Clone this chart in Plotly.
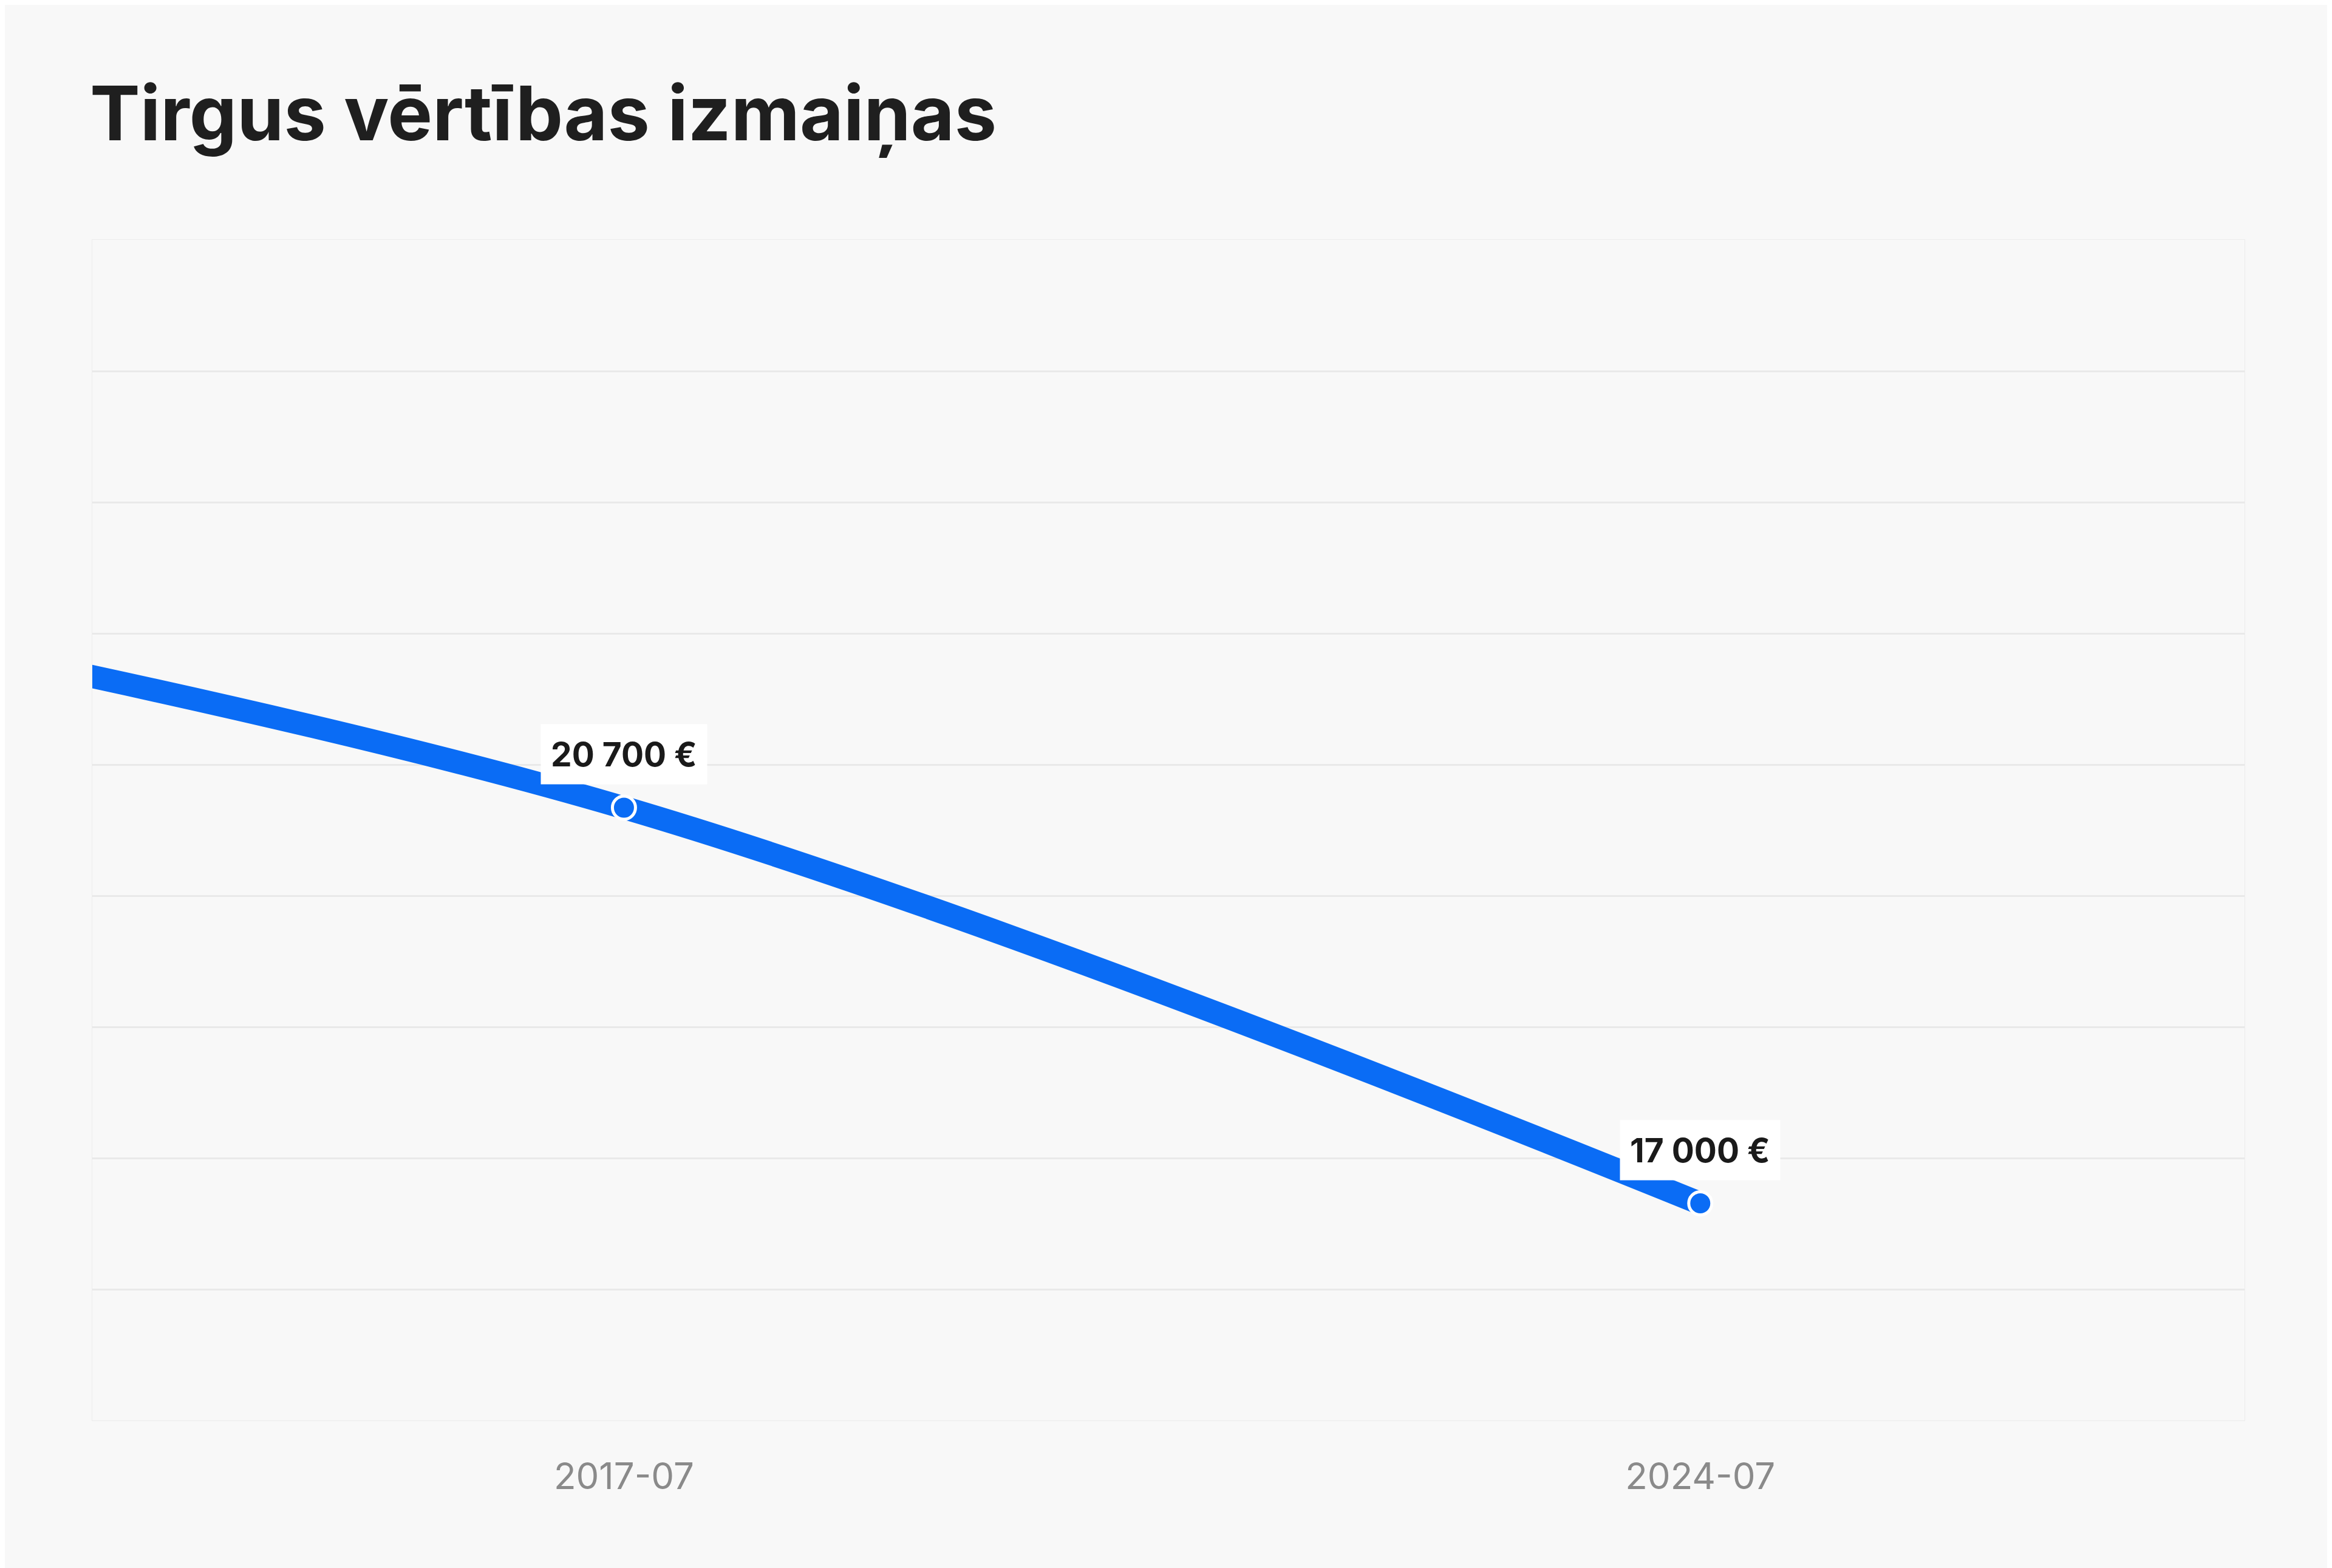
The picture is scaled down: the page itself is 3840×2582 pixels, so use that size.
import plotly.graph_objects as go

dates = ["2010-07-01", "2017-07-01", "2024-07-01"]
values = [22950, 20700, 17000]
tick_labels = ["2017-07", "2024-07"]
tick_dates = ["2017-07-01", "2024-07-01"]
label_texts = ["20 700 €", "17 000 €"]

blue = "#0a6cf5"
fig = go.Figure()
fig.add_trace(go.Scatter(x=dates, y=values, mode="lines",
                         line=dict(color=blue, width=38, shape="spline", smoothing=1.0),
                         hoverinfo="skip"))
fig.add_trace(go.Scatter(x=[dates[1]], y=[values[1]], mode="markers",
                         marker=dict(size=38, color=blue, line=dict(color="white", width=5)),
                         hoverinfo="skip"))
fig.add_trace(go.Scatter(x=[dates[2]], y=[values[2]], mode="markers",
                         marker=dict(size=38, color=blue, line=dict(color="white", width=5)),
                         hoverinfo="skip"))
for d, v, t in zip(tick_dates, values[1:], label_texts):
    fig.add_annotation(x=d, y=v, text="<b>" + t + "</b>", showarrow=False, yshift=88,
                       font=dict(family="Inter", size=55, color="#1a1a1a"),
                       bgcolor="white", borderpad=16)

fig.update_layout(
    width=3840, height=2582, showlegend=False,
    paper_bgcolor="#f8f8f8", plot_bgcolor="#f8f8f8",
    margin=dict(l=144, r=152, t=387, b=251),
    title=dict(text="<b>Tirgus vērtības izmaiņas</b>", x=140/3840, xanchor="left",
               y=1 - 180/2582, yanchor="middle",
               font=dict(family="Inter", size=124, color="#1f1f1f")),
    xaxis=dict(range=["2014-01-15", "2028-01-15"], tickvals=tick_dates, ticktext=tick_labels,
               showgrid=False, zeroline=False, showline=True, linecolor="#ececec", mirror=True,
               tickfont=dict(family="Inter", size=60, color="#8a8a8a"), ticklen=0, ticks="",
               fixedrange=True),
    yaxis=dict(range=[14970, 26010], tick0=14970, dtick=1226.67, showticklabels=False,
               gridcolor="#e9e9e9", gridwidth=3, zeroline=False, showline=True,
               linecolor="#ececec", mirror=True, fixedrange=True),
)
fig.update_xaxes(ticklabelstandoff=40)
fig.write_html("out.html")
